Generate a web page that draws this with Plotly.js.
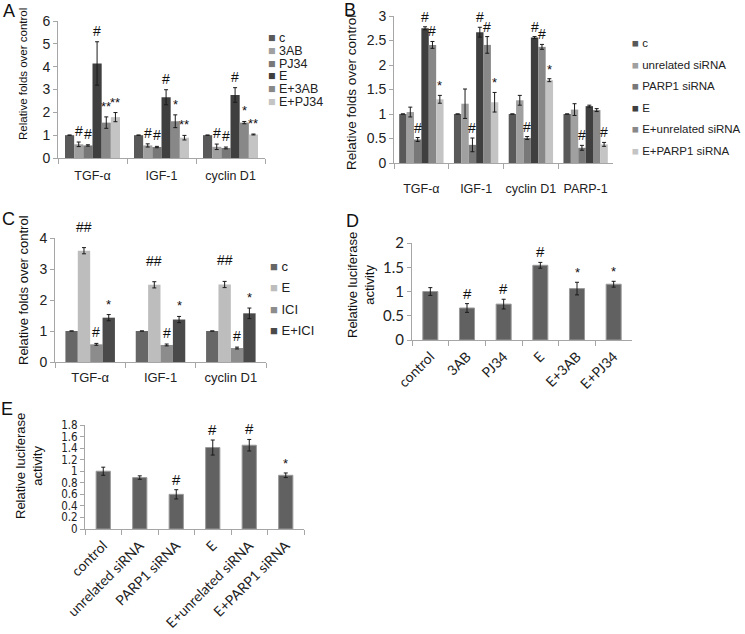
<!DOCTYPE html>
<html>
<head>
<meta charset="utf-8">
<script src="https://cdn.plot.ly/plotly-3.0.1.min.js"></script>
<style>
  body { margin: 0; background: #fff; }
  #chart { width: 745px; height: 634px; }
</style>
</head>
<body>
<div id="chart"></div>
<script>
// ---- data ----

// A: PARP inhibitors, qPCR
const catsA = ['TGF-α', 'IGF-1', 'cyclin D1'];
const groupsA = ['c', '3AB', 'PJ34', 'E', 'E+3AB', 'E+PJ34'];
const valsA = [
  [1, 1, 1],
  [0.6, 0.55, 0.49],
  [0.55, 0.48, 0.44],
  [4.14, 2.66, 2.76],
  [1.55, 1.61, 1.55],
  [1.79, 0.89, 1.03]
];
const errA = [
  [null, null, null],
  [0.1, 0.07, 0.12],
  [0.03, 0.03, 0.04],
  [0.95, 0.33, 0.32],
  [0.25, 0.28, 0.05],
  [0.2, 0.1, 0.02]
];
const marksA = [
  ['', '', ''],
  ['#', '#', '#'],
  ['#', '#', '#'],
  ['#', '#', '#'],
  ['**', '*', '*'],
  ['**', '**', '**']
];

// B: siRNA, qPCR
const catsB = ['TGF-α', 'IGF-1', 'cyclin D1', 'PARP-1'];
const groupsB = ['c', 'unrelated siRNA', 'PARP1 siRNA', 'E', 'E+unrelated siRNA', 'E+PARP1 siRNA'];
const valsB = [
  [1, 1, 1, 1],
  [1.04, 1.21, 1.28, 1.09],
  [0.48, 0.37, 0.51, 0.31],
  [2.75, 2.67, 2.56, 1.16],
  [2.41, 2.41, 2.37, 1.08],
  [1.3, 1.24, 1.69, 0.38]
];
const errB = [
  [null, null, null, null],
  [0.1, 0.3, 0.1, 0.12],
  [0.04, 0.14, 0.03, 0.05],
  [0.03, 0.1, 0.02, 0.02],
  [0.07, 0.17, 0.05, 0.03],
  [0.08, 0.2, 0.03, 0.04]
];
const marksB = [
  ['', '', '', ''],
  ['', '', '', ''],
  ['#', '#', '#', '#'],
  ['#', '#', '#', ''],
  ['#', '#', '#', ''],
  ['*', '*', '*', '#']
];

// C: ICI
const catsC = ['TGF-α', 'IGF-1', 'cyclin D1'];
const groupsC = ['c', 'E', 'ICI', 'E+ICI'];
const valsC = [
  [1, 1, 1],
  [3.59, 2.49, 2.5],
  [0.57, 0.55, 0.45],
  [1.43, 1.37, 1.57]
];
const errC = [
  [null, null, null],
  [0.1, 0.1, 0.1],
  [0.03, 0.03, 0.03],
  [0.1, 0.1, 0.17]
];
const marksC = [
  ['', '', ''],
  ['##', '##', '##'],
  ['#', '#', '#'],
  ['*', '*', '*']
];

// D: luciferase, inhibitors
const catsD = ['control', '3AB', 'PJ34', 'E', 'E+3AB', 'E+PJ34'];
const valsD = [1.0, 0.66, 0.74, 1.54, 1.06, 1.15];
const errD = [0.08, 0.09, 0.1, 0.06, 0.13, 0.06];
const marksD = ['', '#', '#', '#', '*', '*'];

// E: luciferase, siRNA
const catsE = ['control', 'unrelated siRNA', 'PARP1 siRNA', 'E', 'E+unrelated siRNA', 'E+PARP1 siRNA'];
const valsE = [1.0, 0.89, 0.6, 1.41, 1.45, 0.93];
const errE = [0.07, 0.03, 0.08, 0.13, 0.1, 0.04];
const marksE = ['', '', '#', '#', '#', '*'];

const colors6 = ['#595959', '#a0a0a0', '#787878', '#3f3f3f', '#888888', '#c4c4c4'];
const colors4 = ['#666666', '#bdbdbd', '#8c8c8c', '#4a4a4a'];

// ---- helpers ----
const W = 745, H = 634;
const ARIAL = 'Liberation Sans, Arial, sans-serif';
const CALIBRI = 'Lato, Open Sans, sans-serif';
const NARROW = 'DejaVu Sans Condensed, Liberation Sans Narrow, Lato, sans-serif';
const px = p => p / W;
const py = p => 1 - p / H;

let traces = [];
let annotations = [];

function addGrouped(o) {
  let n = o.groups.length, w = o.barW;
  o.groups.forEach((g, i) => {
    let off = -n * w / 2 + i * w;
    traces.push({
      type: 'bar', name: g, x: o.cats, y: o.vals[i],
      xaxis: o.xa, yaxis: o.ya, width: w, offset: off,
      marker: { color: o.colors[i], line: { color: o.edge || o.colors[i], width: o.edge ? 1 : 0 } },
      error_y: { type: 'data', array: o.errs[i], color: '#1a1a1a', thickness: 1, width: 2 },
      showlegend: false, hoverinfo: 'skip'
    });
    o.cats.forEach((c, j) => {
      let m = o.marks[i][j];
      if (!m) return;
      annotations.push({
        xref: o.xa, yref: o.ya, x: j + off + w / 2,
        y: o.vals[i][j] + (o.errs[i][j] || 0),
        text: m, showarrow: false, yanchor: 'bottom', yshift: (o.gap || 0) + (m == '##' ? (o.gap2 || 0) : 0),
        font: { family: ARIAL, size: m[0] == '#' ? (o.hash || 14) : 13, color: '#111' }
      });
    });
  });
}

function addLegend(names, cols, x, y0, step, size) {
  names.forEach((nm, i) => {
    annotations.push({
      xref: 'paper', yref: 'paper', x: px(x), y: py(y0 + i * step),
      xanchor: 'left', yanchor: 'middle', showarrow: false,
      text: '<span style="color:' + cols[i] + '">■</span> ' + nm,
      font: { family: ARIAL, size: size, color: '#222' }
    });
  });
}

function addText(text, x, y, size, angle, fam) {
  annotations.push({
    xref: 'paper', yref: 'paper', x: px(x), y: py(y), xanchor: 'center', yanchor: 'middle',
    showarrow: false, text: text, textangle: angle || 0,
    font: { family: fam || ARIAL, size: size, color: '#111' }
  });
}

function yAxis(y0, y1, range, dtick, anchor, fam, size) {
  return {
    domain: [py(y1), py(y0)], range: range, dtick: dtick, anchor: anchor,
    showgrid: false, zeroline: false, showline: true, linecolor: '#a6a6a6', linewidth: 1,
    ticks: 'outside', ticklen: 4, tickcolor: '#a6a6a6',
    tickfont: { family: fam, size: size, color: '#222' }, fixedrange: true
  };
}

function xAxis(x0, x1, anchor, fam, size, angle, standoff) {
  return {
    domain: [px(x0), px(x1)], anchor: anchor, type: 'category',
    showgrid: false, zeroline: false, showline: true, linecolor: '#a6a6a6', linewidth: 1,
    ticks: 'outside', tickson: 'boundaries', ticklen: 5, tickcolor: '#a6a6a6',
    tickangle: angle || 0, ticklabelstandoff: standoff || 0,
    tickfont: { family: fam, size: size, color: '#222' }, fixedrange: true
  };
}

// ---- panels ----
addGrouped({ cats: catsA, groups: groupsA, vals: valsA, errs: errA, marks: marksA,
  colors: colors6, barW: 0.133, xa: 'x', ya: 'y', gap: 1 });
addGrouped({ cats: catsB, groups: groupsB, vals: valsB, errs: errB, marks: marksB,
  colors: colors6, barW: 0.135, xa: 'x2', ya: 'y2', gap: 0 });
addGrouped({ cats: catsC, groups: groupsC, vals: valsC, errs: errC, marks: marksC,
  colors: colors4, barW: 0.176, xa: 'x3', ya: 'y3', gap: 1, gap2: 10 });
addGrouped({ cats: catsD, groups: [''], vals: [valsD], errs: [errD], marks: [marksD],
  colors: ['#616161'], edge: '#9a9a9a', barW: 0.41, xa: 'x4', ya: 'y4', gap: 0, hash: 15 });
addGrouped({ cats: catsE, groups: [''], vals: [valsE], errs: [errE], marks: [marksE],
  colors: ['#616161'], edge: '#9a9a9a', barW: 0.39, xa: 'x5', ya: 'y5', gap: 0, hash: 15 });

addLegend(groupsA, colors6, 266, 38, 12.8, 12.5);
addLegend(groupsB, colors6, 630, 43, 21.6, 11.5);
addLegend(groupsC, colors4, 268, 266, 21.5, 13);

addText('A', 9, 11, 18);
addText('B', 350, 10, 18);
addText('C', 8, 219, 18);
addText('D', 352, 221, 18);
addText('E', 7, 409, 18);

addText('Relative folds over control', 23, 74, 11.5, -90);
addText('Relative folds over control', 352, 93, 13.5, -90);
addText('Relative folds over control', 23, 290, 13, -90);
addText('Relative luciferase<br>activity', 361, 285, 13, -90);
addText('Relative luciferase<br>activity', 29, 466, 13, -90);

const layout = {
  width: W, height: H,
  margin: { l: 0, r: 0, t: 0, b: 0 },
  paper_bgcolor: '#fff', plot_bgcolor: 'rgba(0,0,0,0)',
  showlegend: false,
  font: { family: ARIAL, color: '#222' },
  xaxis: xAxis(58, 265, 'y', ARIAL, 12.5, 0, 6),
  yaxis: yAxis(21, 158, [0, 6], 1, 'x', ARIAL, 14),
  xaxis2: xAxis(394, 613, 'y2', ARIAL, 12.5, 0, 14),
  yaxis2: yAxis(16, 163, [0, 3], 0.5, 'x2', ARIAL, 14),
  xaxis3: xAxis(55, 266, 'y3', ARIAL, 13, 0, 3),
  yaxis3: yAxis(238, 362, [0, 4], 1, 'x3', ARIAL, 14),
  xaxis4: xAxis(412, 632, 'y4', CALIBRI, 14, -45, 2),
  yaxis4: yAxis(243, 340, [0, 2], 0.5, 'x4', CALIBRI, 15),
  xaxis5: xAxis(85, 304, 'y5', CALIBRI, 14, -45, 2),
  yaxis5: yAxis(425, 529, [0, 1.8], 0.2, 'x5', NARROW, 11.5),
  annotations: annotations
};

Plotly.newPlot('chart', traces, layout, { staticPlot: true, displayModeBar: false });
</script>
</body>
</html>
